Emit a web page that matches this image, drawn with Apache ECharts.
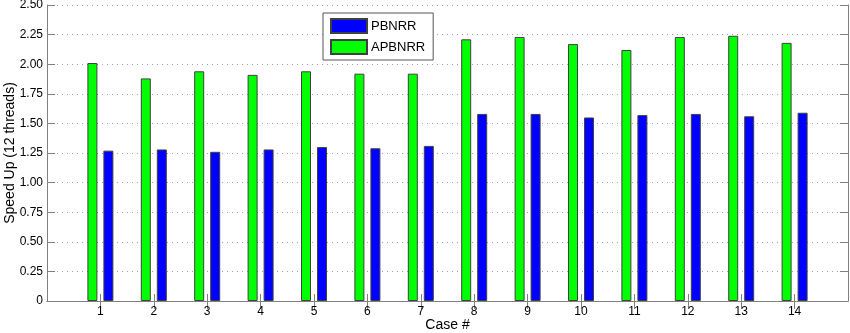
<!DOCTYPE html>
<html>
<head>
<meta charset="utf-8">
<script src="https://cdn.jsdelivr.net/npm/echarts@6/dist/echarts.min.js"></script>
<style>
  html, body { margin: 0; padding: 0; background: #fff; }
  #chart { width: 850px; height: 333px; }
</style>
</head>
<body>
<div id="chart"></div>
<script>
// cases 1..14, padded with empty slots on each side
var cases = ['', '1', '2', '3', '4', '5', '6', '7', '8', '9', '10', '11', '12', '13', '14', ''];
var apbnrr = [null, 2.01, 1.88, 1.94, 1.91, 1.94, 1.92, 1.92, 2.21, 2.23, 2.17, 2.12, 2.23, 2.24, 2.18, null];
var pbnrr = [null, 1.27, 1.28, 1.26, 1.28, 1.30, 1.29, 1.31, 1.58, 1.58, 1.55, 1.57, 1.58, 1.56, 1.59, null];
var yTicks = { min: 0, max: 2.5, interval: 0.25 };

var font = 'Liberation Sans, Arial, sans-serif';
var lineCol = '#808080';

var chart = echarts.init(document.getElementById('chart'));

function tickOn(idx, val) { return val !== ''; }

chart.setOption({
  animation: false,
  textStyle: { fontFamily: font },
  grid: { left: 47, right: 2, top: 5, bottom: 32, containLabel: false, outerBoundsMode: 'none' },
  legend: {
    data: ['PBNRR', 'APBNRR'],
    orient: 'vertical',
    icon: 'rect',
    left: 323,
    top: 13,
    padding: [5, 8, 5, 7],
    itemWidth: 36,
    itemHeight: 14,
    itemGap: 5,
    borderColor: '#555',
    borderWidth: 1,
    backgroundColor: '#fff',
    textStyle: { fontSize: 13, color: '#000', fontFamily: font, padding: [0, 0, 0, -1] }
  },
  xAxis: [{
    type: 'category',
    data: cases,
    boundaryGap: false,
    name: 'Case #',
    nameLocation: 'middle',
    nameGap: 17,
    nameMoveOverlap: false,
    nameTextStyle: { fontSize: 14, color: '#000', verticalAlign: 'top' },
    axisLine: { lineStyle: { color: lineCol, width: 1 } },
    axisTick: { inside: true, length: 7, interval: tickOn, lineStyle: { color: lineCol } },
    axisLabel: { interval: 0, fontSize: 12, color: '#000', margin: 5 },
    splitLine: { show: false }
  }, {
    type: 'category',
    data: cases,
    boundaryGap: false,
    position: 'top',
    axisLine: { lineStyle: { color: lineCol, width: 1 } },
    axisTick: { inside: true, length: 8, interval: tickOn, lineStyle: { color: lineCol } },
    axisLabel: { show: false },
    splitLine: { show: false }
  }],
  yAxis: [{
    type: 'value',
    min: yTicks.min,
    max: yTicks.max,
    interval: yTicks.interval,
    name: 'Speed Up (12 threads)',
    nameLocation: 'middle',
    nameGap: 30,
    nameMoveOverlap: false,
    nameTextStyle: { fontSize: 14, color: '#000' },
    axisLine: { show: true, lineStyle: { color: lineCol, width: 1 } },
    axisTick: { show: true, inside: true, length: 8, lineStyle: { color: lineCol } },
    axisLabel: {
      fontSize: 12, color: '#000', margin: 4,
      formatter: function (v) { return v === 0 ? '0' : v.toFixed(2); }
    },
    splitLine: { show: true, lineStyle: { color: '#a0a0a0', type: [1, 4], width: 1 } }
  }, {
    type: 'value',
    min: yTicks.min,
    max: yTicks.max,
    interval: yTicks.interval,
    position: 'right',
    axisLine: { show: true, lineStyle: { color: lineCol, width: 1 } },
    axisTick: { show: true, inside: true, length: 8, lineStyle: { color: lineCol } },
    axisLabel: { show: false },
    splitLine: { show: false }
  }],
  series: [
    {
      name: 'APBNRR',
      type: 'bar',
      data: apbnrr,
      barWidth: 10,
      barGap: '60%',
      itemStyle: { color: '#00ff00', borderColor: '#404040', borderWidth: 1 }
    },
    {
      name: 'PBNRR',
      type: 'bar',
      data: pbnrr,
      barWidth: 10,
      barGap: '60%',
      itemStyle: { color: '#0000ff', borderColor: '#404040', borderWidth: 1 }
    }
  ]
});
</script>
</body>
</html>
